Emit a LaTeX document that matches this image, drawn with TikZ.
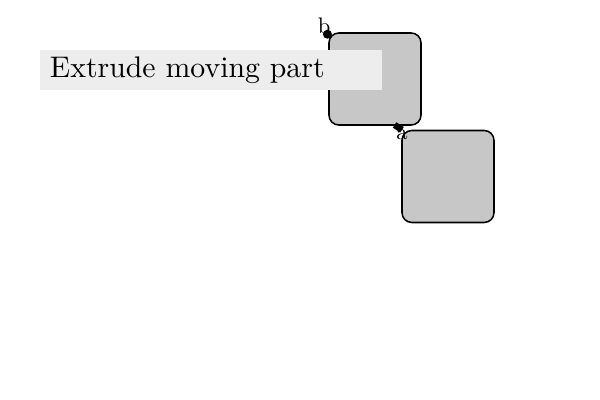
\documentclass[tikz,border=0pt]{standalone}
\usetikzlibrary{positioning}
\tikzset{
  part/.style={draw, line width=1.1pt, fill=black!22, rounded corners=7pt,
    minimum width=2.3cm, minimum height=2.3cm},
  caption/.style={fill=black!7, text width=8.05cm, minimum height=1cm,
    inner xsep=0.25cm, inner ysep=0pt, align=left},
  link/.style={line width=4.6pt},
  tag/.style={inner sep=0pt}
}
\begin{document}
\begin{tikzpicture}
\useasboundingbox (0,0) rectangle (15,10);
\node[part] (moving) at (9.375,8.025) {};
\node[part] (fixed) at (11.2,5.5875) {};
\node[caption] (title) at (5.275,8.25) {\scalebox{2.12}{Extrude moving part}};
% connector between the two parts
\coordinate (from) at ([xshift=-0.68cm,yshift=0.02cm]moving.south east);
\draw[link] (from) -- ([xshift=0.02cm]fixed.north west);
\fill (moving.north west) ++(-0.02,-0.05) circle (3.2pt);
\node[tag] (tb) at ([xshift=-0.1cm,yshift=0.15cm]moving.north west) {\scalebox{1.6}{b}};
\node[tag] (ta) at ([xshift=0.02cm,yshift=-0.12cm]fixed.north west) {\scalebox{1.6}{a}};
\end{tikzpicture}
\end{document}
